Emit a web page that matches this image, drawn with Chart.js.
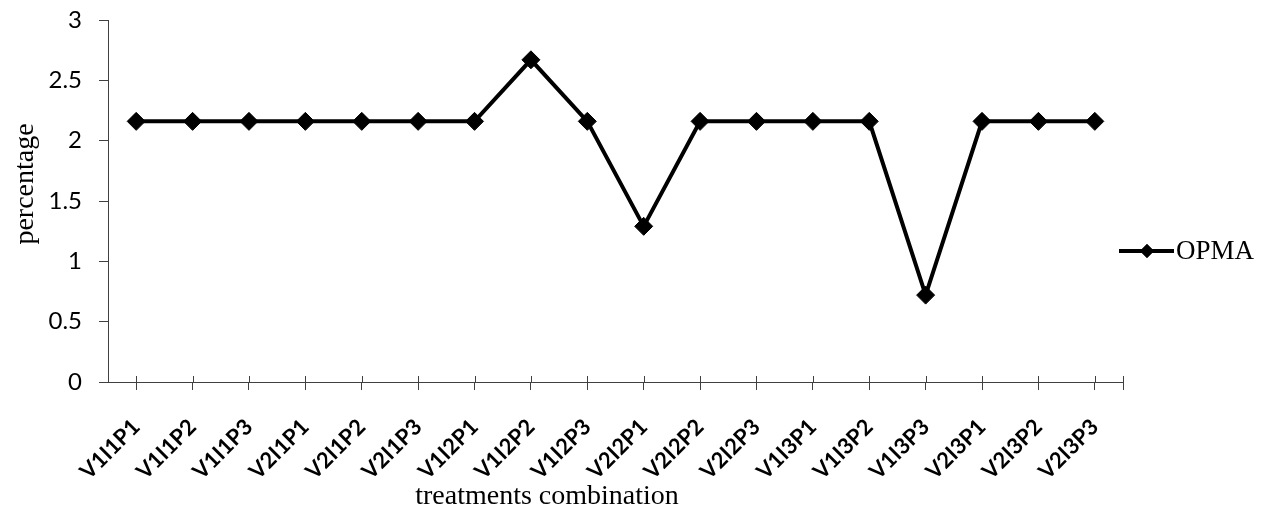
<!DOCTYPE html>
<html>
<head>
<meta charset="utf-8">
<script src="https://cdn.jsdelivr.net/npm/chart.js@4.4.0/dist/chart.umd.min.js"></script>
<style>
  html, body { margin: 0; padding: 0; background: #fff; }
  #wrap { width: 1269px; height: 510px; }
</style>
</head>
<body>
<div id="wrap"><canvas id="chart" width="1269" height="510"></canvas></div>
<script>
// Chart data
const categories = ['V1I1P1', 'V1I1P2', 'V1I1P3', 'V2I1P1', 'V2I1P2', 'V2I1P3',
    'V1I2P1', 'V1I2P2', 'V1I2P3', 'V2I2P1', 'V2I2P2', 'V2I2P3',
    'V1I3P1', 'V1I3P2', 'V1I3P3', 'V2I3P1', 'V2I3P2', 'V2I3P3'];
const opmaValues = [2.16, 2.16, 2.16, 2.16, 2.16, 2.16,
    2.16, 2.67, 2.16, 1.29, 2.16, 2.16,
    2.16, 2.16, 0.72, 2.16, 2.16, 2.16];
const yTicks = [0, 0.5, 1, 1.5, 2, 2.5, 3];
const seriesName = 'OPMA';
const xTitle = 'treatments combination';
const yTitle = 'percentage';

const axisColor = '#404040';
const serif = '"Liberation Serif", "Times New Roman", serif';

// titles, legend, crossing ticks and the closing tick of the category axis
const extras = {
    id: 'extras',
    afterDraw(chart) {
        const ctx = chart.ctx;
        const area = chart.chartArea;
        const xScale = chart.scales.x;
        const ds = chart.data.datasets[0];
        ctx.save();

        ctx.strokeStyle = axisColor;
        ctx.lineWidth = 1;
        ctx.beginPath();
        xScale.ticks.forEach((t, i) => {
            const x = Math.round(xScale.getPixelForTick(i)) + 0.5;
            ctx.moveTo(x, area.bottom - 6);
            ctx.lineTo(x, area.bottom);
        });
        ctx.moveTo(area.right + 0.5, area.bottom - 6);
        ctx.lineTo(area.right + 0.5, area.bottom + 8);
        ctx.stroke();

        ctx.fillStyle = '#000';
        ctx.font = '28px ' + serif;
        ctx.textAlign = 'center';
        ctx.textBaseline = 'alphabetic';
        ctx.fillText(xTitle, 547, 504);

        ctx.save();
        ctx.translate(26, 184);
        ctx.rotate(-Math.PI / 2);
        ctx.textBaseline = 'middle';
        ctx.fillText(yTitle, 0, 0);
        ctx.restore();

        // legend
        const ly = 251;
        ctx.strokeStyle = ds.borderColor;
        ctx.lineWidth = ds.borderWidth;
        ctx.beginPath();
        ctx.moveTo(1119, ly);
        ctx.lineTo(1174, ly);
        ctx.stroke();
        ctx.fillStyle = ds.pointBackgroundColor;
        Chart.helpers.drawPoint(ctx, { pointStyle: 'rectRot', radius: 7, borderWidth: 0 }, 1147, ly);
        ctx.fill();
        ctx.fillStyle = '#000';
        ctx.font = '27px ' + serif;
        ctx.textAlign = 'left';
        ctx.textBaseline = 'middle';
        ctx.fillText(ds.label, 1176, ly + 1);

        ctx.restore();
    }
};

new Chart(document.getElementById('chart'), {
    type: 'line',
    data: {
        labels: categories,
        datasets: [{
            label: seriesName,
            data: opmaValues,
            borderColor: '#000',
            borderWidth: 4,
            backgroundColor: '#000',
            pointStyle: 'rectRot',
            pointRadius: 9,
            pointBorderWidth: 1,
            pointBackgroundColor: '#000',
            pointBorderColor: '#000',
            tension: 0,
            fill: false
        }]
    },
    options: {
        responsive: false,
        animation: false,
        events: [],
        layout: { padding: { top: 20, right: 146, left: 0, bottom: 0 } },
        plugins: {
            legend: { display: false },
            tooltip: { enabled: false }
        },
        scales: {
            x: {
                offset: true,
                afterFit: s => { s.height = 128; s.paddingLeft = 0; s.paddingRight = 0; },
                grid: {
                    offset: false,
                    drawOnChartArea: false,
                    drawTicks: true,
                    tickLength: 8,
                    color: axisColor
                },
                border: { display: true, color: axisColor, width: 1 },
                ticks: {
                    autoSkip: false,
                    maxRotation: 45,
                    minRotation: 45,
                    padding: 24,
                    color: '#000',
                    font: { family: 'Lato', size: 22, weight: 'bold' }
                }
            },
            y: {
                min: 0,
                max: 3,
                afterFit: s => { s.width = 108; s.paddingTop = 0; s.paddingBottom = 0; },
                afterBuildTicks: s => { s.ticks = yTicks.map(v => ({ value: v })); },
                grid: {
                    drawOnChartArea: false,
                    drawTicks: true,
                    tickLength: 9,
                    color: axisColor
                },
                border: { display: true, color: axisColor, width: 1 },
                ticks: {
                    padding: 17,
                    color: '#000',
                    font: { family: 'Lato', size: 24 },
                    callback: v => String(v)
                }
            }
        }
    },
    plugins: [extras]
});
</script>
</body>
</html>
